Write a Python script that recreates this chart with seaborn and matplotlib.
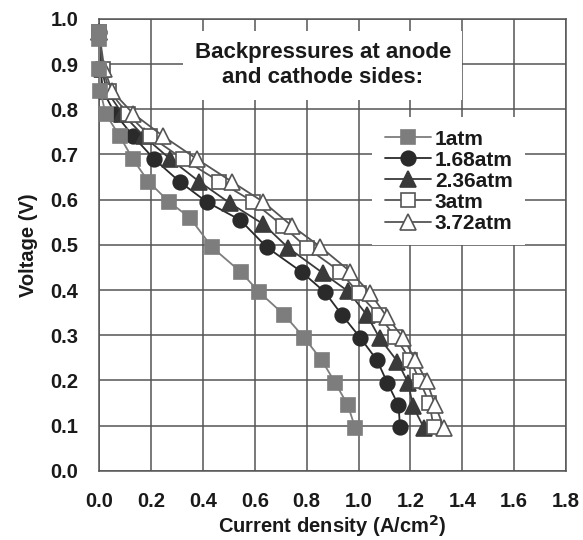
import matplotlib
matplotlib.use("Agg")
import matplotlib.pyplot as plt
import seaborn as sns
import pandas as pd

sns.set_theme(style="white")
plt.rcParams['font.family'] = ['Liberation Sans', 'DejaVu Sans']
plt.rcParams['font.weight'] = 'bold'

labels = ["1atm", "1.68atm", "2.36atm", "3atm", "3.72atm"]

i_1atm = [0.0, 0.0, 0.0, 0.005, 0.025, 0.08, 0.13, 0.19, 0.27, 0.35, 0.435, 0.546, 0.618, 0.714, 0.79, 0.858, 0.91, 0.959, 0.987]
v_1atm = [0.97, 0.955, 0.89, 0.84, 0.79, 0.74, 0.69, 0.64, 0.595, 0.56, 0.495, 0.44, 0.395, 0.345, 0.295, 0.245, 0.195, 0.145, 0.095]

i_168 = [0.0, 0.005, 0.015, 0.062, 0.132, 0.212, 0.31, 0.415, 0.544, 0.646, 0.781, 0.871, 0.936, 1.006, 1.071, 1.111, 1.154, 1.16]
v_168 = [0.97, 0.89, 0.84, 0.79, 0.74, 0.69, 0.64, 0.595, 0.555, 0.495, 0.44, 0.395, 0.345, 0.295, 0.245, 0.195, 0.145, 0.097]

i_236 = [0.0, 0.01, 0.03, 0.09, 0.173, 0.274, 0.386, 0.505, 0.633, 0.73, 0.864, 0.961, 1.032, 1.081, 1.15, 1.192, 1.209, 1.253]
v_236 = [0.97, 0.89, 0.84, 0.79, 0.74, 0.69, 0.64, 0.592, 0.546, 0.493, 0.437, 0.397, 0.345, 0.294, 0.242, 0.194, 0.144, 0.094]

i_3 = [0.0, 0.015, 0.04, 0.11, 0.197, 0.323, 0.464, 0.595, 0.708, 0.8, 0.929, 1.0, 1.077, 1.141, 1.199, 1.237, 1.273, 1.289]
v_3 = [0.97, 0.89, 0.84, 0.79, 0.74, 0.69, 0.64, 0.595, 0.542, 0.494, 0.441, 0.393, 0.345, 0.297, 0.246, 0.198, 0.15, 0.098]

i_372 = [0.0, 0.02, 0.05, 0.132, 0.248, 0.377, 0.511, 0.633, 0.743, 0.852, 0.968, 1.045, 1.109, 1.173, 1.218, 1.263, 1.295, 1.33]
v_372 = [0.97, 0.89, 0.84, 0.79, 0.74, 0.69, 0.64, 0.595, 0.542, 0.496, 0.441, 0.393, 0.341, 0.294, 0.246, 0.198, 0.146, 0.094]

series_i = [i_1atm, i_168, i_236, i_3, i_372]
series_v = [v_1atm, v_168, v_236, v_3, v_372]

styles = [
    dict(marker="s", color="#7d7d7d", mfc="#7d7d7d", mec="#7d7d7d", ms=10, z=8),
    dict(marker="o", color="#2a2a2a", mfc="#2a2a2a", mec="#2a2a2a", ms=10.5, z=4),
    dict(marker="^", color="#3a3a3a", mfc="#3a3a3a", mec="#3a3a3a", ms=11, z=5),
    dict(marker="s", color="#555555", mfc="white", mec="#555555", ms=10, z=6),
    dict(marker="^", color="#555555", mfc="white", mec="#555555", ms=11, z=7),
]

fig, ax = plt.subplots(figsize=(5.83, 5.40), dpi=100)
fig.subplots_adjust(left=0.17, right=0.971, top=0.965, bottom=0.128)

for lab, xs, ys, st in zip(labels, series_i, series_v, styles):
    df = pd.DataFrame({"i": xs, "v": ys})
    sns.lineplot(data=df, x="i", y="v", ax=ax, sort=False, estimator=None,
                 label=lab, color=st["color"], marker=st["marker"],
                 markerfacecolor=st["mfc"], markeredgecolor=st["mec"],
                 markeredgewidth=1.2, markersize=st["ms"], linewidth=1.3,
                 zorder=st["z"], clip_on=False)

ax.set_xlim(0, 1.8)
ax.set_ylim(0, 1.0)
ax.set_xticks([0.0, 0.2, 0.4, 0.6, 0.8, 1.0, 1.2, 1.4, 1.6, 1.8])
ax.set_yticks([0.0, 0.1, 0.2, 0.3, 0.4, 0.5, 0.6, 0.7, 0.8, 0.9, 1.0])
ax.xaxis.set_major_formatter(matplotlib.ticker.FormatStrFormatter("%.1f"))
ax.yaxis.set_major_formatter(matplotlib.ticker.FormatStrFormatter("%.1f"))
ax.tick_params(axis="both", length=0, labelsize=14.5, colors="#1a1a1a")
ax.tick_params(axis="x", pad=15)
ax.tick_params(axis="y", pad=15)
for lbl in ax.get_xticklabels() + ax.get_yticklabels():
    lbl.set_fontweight("bold")
ax.grid(True, color="#555555", linewidth=1.1)
ax.set_axisbelow(True)
for sp in ax.spines.values():
    sp.set_color("#555555")
    sp.set_linewidth(1.1)

ax.set_xlabel("Current density (A/cm$^\\mathbf{2}$)", fontsize=14.5, fontweight="bold",
              labelpad=2, color="#1a1a1a")
ax.set_ylabel("Voltage (V)", fontsize=14.5, fontweight="bold", labelpad=9, color="#1a1a1a")

ax.text(0.479, 0.897, "Backpressures at anode\nand cathode sides:", transform=ax.transAxes,
        ha="center", va="center", multialignment="center", fontsize=16, fontweight="bold",
        color="#1a1a1a", linespacing=1.25,
        bbox=dict(facecolor="white", edgecolor="none", pad=8), zorder=3)

handles, labs = ax.get_legend_handles_labels()
leg = ax.legend(handles, labs, loc="upper left", bbox_to_anchor=(0.563, 0.806), frameon=True,
                facecolor="white", edgecolor="none", framealpha=1, fancybox=False,
                handlelength=2.2, handletextpad=0.2, labelspacing=0.1,
                borderpad=0.6, prop={"weight": "bold", "size": 15})
leg.set_zorder(10)
for t in leg.get_texts():
    t.set_color("#1a1a1a")

fig.savefig("out.png", dpi=100)
